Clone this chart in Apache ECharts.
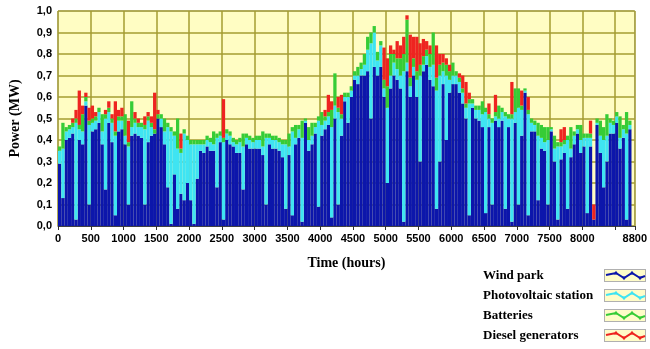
<!DOCTYPE html>
<html>
<head>
<meta charset="utf-8">
<script src="https://cdn.jsdelivr.net/npm/echarts@6/dist/echarts.min.js"></script>
<style>
  html, body { margin: 0; padding: 0; background: #ffffff; }
  #chart { width: 650px; height: 349px; }
</style>
</head>
<body>
<div id="chart"></div>
<script>
// Hourly power balance, aggregated into 50-hour blocks (MW per source)
const seriesNames = ['Wind park', 'Photovoltaic station', 'Batteries', 'Diesel generators'];
const seriesColors = ['#0c16ab', '#3fe4f2', '#36cc36', '#ee2420'];

const windPark = [
  .29,.13,.40,.41,.43,.03,.40,.38,.56,.10, .44,.45,.48,.38,.17,.48,.39,.05,.44,.45,
  .38,.10,.42,.43,.42,.41,.10,.39,.42,.43,
  .50,.46,.38,.18,.01,.24,.08,.15,.12,.20, .12,.01,.22,.35,.34,.37,.35,.35,.18,.39,
  .03,.40,.38,.37,.34,.34,.17,.38,.36,.36,
  .36,.36,.33,.10,.38,.36,.36,.35,.32,.08, .33,.05,.38,.41,.02,.48,.35,.38,.43,.09,
  .42,.45,.47,.04,.50,.10,.42,.58,.48,.60,
  .68,.66,.70,.70,.72,.50,.74,.70,.74,.60, .20,.64,.70,.68,.64,.02,.72,.60,.70,.60,
  .30,.72,.75,.68,.65,.08,.30,.66,.40,.62,
  .66,.66,.62,.57,.50,.05,.55,.50,.49,.46, .06,.46,.10,.49,.46,.49,.08,.46,.02,.48,
  .10,.42,.62,.05,.44,.44,.12,.36,.35,.10,
  .44,.30,.03,.31,.34,.08,.32,.38,.43,.34, .37,.06,.37,.03,.47,.34,.18,.30,.43,.43,
  .48,.36,.41,.03,.45
];

const pvStation = [
  .06,.23,.04,.04,.03,.45,.05,.06,.02,.37, .04,.04,.05,.06,.33,.05,.09,.37,.05,.04,
  .04,.27,.04,.05,.04,.05,.35,.10,.04,.00,
  .00,.04,.06,.28,.43,.18,.28,.19,.31,.20, .26,.37,.16,.03,.04,.03,.04,.03,.23,.03,
  .36,.03,.04,.02,.04,.05,.20,.03,.04,.03,
  .04,.04,.04,.31,.03,.04,.04,.04,.06,.30, .04,.39,.03,.04,.39,.01,.05,.04,.03,.40,
  .05,.04,.04,.42,.06,.43,.08,.02,.12,.03,
  .02,.04,.03,.05,.10,.35,.16,.07,.10,.04, .35,.06,.06,.05,.06,.70,.04,.05,.04,.08,
  .40,.03,.04,.06,.10,.55,.40,.06,.30,.06,
  .04,.04,.05,.05,.05,.52,.02,.04,.05,.06, .47,.04,.38,.02,.04,.04,.43,.04,.48,.05,
  .45,.12,.01,.47,.04,.03,.30,.05,.04,.30,
  .01,.06,.34,.06,.04,.32,.04,.04,.02,.06, .04,.35,.04,.00,.01,.08,.22,.12,.05,.04,
  .03,.05,.04,.40,.02
];

const batteries = [
  .02,.12,.02,.02,.02,.02,.02,.08,.02,.02, .02,.02,.02,.08,.02,.02,.02,.02,.02,.02,
  .10,.02,.12,.02,.02,.02,.02,.02,.02,.02,
  .02,.02,.06,.02,.02,.02,.14,.02,.02,.02, .02,.02,.02,.02,.02,.02,.02,.06,.02,.02,
  .02,.02,.02,.02,.02,.02,.06,.02,.02,.02,
  .02,.02,.07,.02,.02,.02,.02,.02,.02,.02, .06,.02,.06,.02,.08,.01,.06,.06,.02,.02,
  .06,.02,.02,.08,.15,.02,.02,.02,.02,.02,
  .02,.04,.03,.05,.06,.05,.03,.04,.02,.04, .10,.10,.04,.05,.08,.08,.20,.04,.04,.04,
  .05,.04,.03,.06,.15,.06,.05,.04,.05,.04,
  .06,.02,.02,.02,.02,.02,.02,.02,.02,.06, .02,.02,.02,.02,.06,.02,.02,.02,.02,.11,
  .09,.02,.01,.02,.02,.02,.06,.06,.07,.06,
  .01,.06,.02,.02,.02,.02,.10,.02,.02,.07, .02,.02,.02,.00,.02,.07,.06,.10,.02,.02,
  .02,.10,.02,.10,.02
];

const dieselGen = [
  0,0,0,0,.02,.04,.16,.04,.02,.06, .06,.02,0,0,.02,.03,.02,.14,.03,.04,
  0,.10,0,.03,.02,0,.04,.02,.03,.17,
  .02,0,0,0,0,0,0,.07,0,0, 0,0,0,0,0,0,0,0,0,0,
  .18,0,0,0,0,0,0,0,0,0,
  0,0,0,0,0,0,0,0,0,0, 0,0,0,0,0,0,0,0,0,0,
  0,.03,.08,.04,0,.05,.09,0,0,0,
  0,0,0,0,0,0,0,0,0,.15, .13,.04,.02,.08,.06,.08,.02,.20,.10,.16,
  .10,.08,.04,.04,0,.15,.05,.04,.03,.03,
  0,0,.02,.06,.10,.03,0,0,0,0, 0,.05,0,.08,0,0,0,0,.15,0,
  0,.07,0,.06,0,0,0,0,0,0,
  0,0,0,.06,.06,0,0,0,0,0, 0,0,.06,.07,0,0,0,0,0,0,
  0,0,0,0,0
];

// Axis settings
const hourMax = 8800;
const hourStep = 500;
const hiddenHourLabels = [8500];
const powerMax = 1.0;
const powerStep = 0.1;

// 50-hour blocks covering the whole time axis; values fill the first blocks
const blockHours = 50;
const blockCentres = Array.from({ length: hourMax / blockHours }, (_, i) => String(blockHours * i + blockHours / 2));

const sourceValues = [windPark, pvStation, batteries, dieselGen];

const labelFont = "'Liberation Sans Narrow', 'Liberation Sans', Arial, sans-serif";
const titleFont = "'Liberation Serif', 'Times New Roman', serif";

function legendIcon(color) {
  const svg =
    '<svg xmlns="http://www.w3.org/2000/svg" width="42" height="13">' +
    '<rect x="0.5" y="0.5" width="41" height="12" fill="#fffcc8" stroke="#b0b0b0"/>' +
    '<polyline points="2,6 12,4 20,9 28,4 36,9 41,7" fill="none" stroke="' + color + '" stroke-width="2"/>' +
    '<path d="M9.5,5.5 L12,1.8 L14.5,5.5Z M17.5,7.5 L20,11.2 L22.5,7.5Z M25.5,5.5 L28,1.8 L30.5,5.5Z M33.5,7.5 L36,11.2 L38.5,7.5Z" fill="' + color + '"/>' +
    '</svg>';
  return 'image://data:image/svg+xml;charset=utf-8,' + encodeURIComponent(svg);
}

const chart = echarts.init(document.getElementById('chart'), null, { renderer: 'canvas' });

chart.setOption({
  animation: false,
  backgroundColor: '#ffffff',
  grid: {
    left: 56, right: 14, top: 11, bottom: 123,
    show: true,
    backgroundColor: '#fffdc3',
    borderColor: '#a8a8a8',
    borderWidth: 1
  },
  legend: {
    orient: 'vertical',
    left: 483,
    top: 269,
    padding: 0,
    align: 'right',
    itemWidth: 42,
    itemHeight: 13,
    itemGap: 7,
    selectedMode: false,
    data: seriesNames.map((n, i) => ({ name: n, icon: legendIcon(seriesColors[i]) })),
    formatter: n => '{t|' + n + '}',
    textStyle: {
      width: 116,
      color: '#000',
      fontFamily: titleFont,
      fontWeight: 'bold',
      fontSize: 13,
      lineHeight: 13,
      rich: {
        t: { align: 'left', color: '#000', fontFamily: titleFont, fontWeight: 'bold', fontSize: 13, lineHeight: 13 }
      }
    }
  },
  xAxis: [
    {
      // block axis carrying the bars
      type: 'category',
      position: 'top',
      data: blockCentres,
      show: false
    },
    {
      // time scale in hours
      type: 'value',
      position: 'bottom',
      min: 0,
      max: hourMax,
      interval: hourStep,
      name: 'Time (hours)',
      nameLocation: 'middle',
      nameGap: 30,
      nameTextStyle: { fontFamily: titleFont, fontWeight: 'bold', fontSize: 14, color: '#000' },
      axisLine: { show: true, lineStyle: { color: '#404040', width: 1 } },
      axisTick: { show: true, length: 4, lineStyle: { color: '#303030' } },
      axisLabel: {
        color: '#000',
        fontFamily: labelFont,
        fontWeight: 'bold',
        fontSize: 11,
        margin: 7,
        formatter: v => hiddenHourLabels.includes(v) ? '' : String(v)
      },
      splitLine: { show: true, lineStyle: { color: '#a49c30', width: 1.5 } }
    }
  ],
  yAxis: {
    type: 'value',
    min: 0,
    max: powerMax,
    interval: powerStep,
    name: 'Power (MW)',
    nameLocation: 'middle',
    nameGap: 36,
    nameTextStyle: { fontFamily: titleFont, fontWeight: 'bold', fontSize: 14, color: '#000' },
    axisLine: { show: false },
    axisTick: { show: false },
    axisLabel: {
      color: '#000',
      fontFamily: labelFont,
      fontWeight: 'bold',
      fontSize: 11,
      margin: 6,
      formatter: v => v.toFixed(1).replace('.', ',')
    },
    splitLine: { show: true, lineStyle: { color: '#a49c30', width: 1.5 } }
  },
  series: seriesNames.map((name, k) => ({
    name: name,
    type: 'bar',
    stack: 'power',
    xAxisIndex: 0,
    barCategoryGap: '0%',
    itemStyle: { color: seriesColors[k] },
    emphasis: { disabled: true },
    data: sourceValues[k]
  }))
});
</script>
</body>
</html>
